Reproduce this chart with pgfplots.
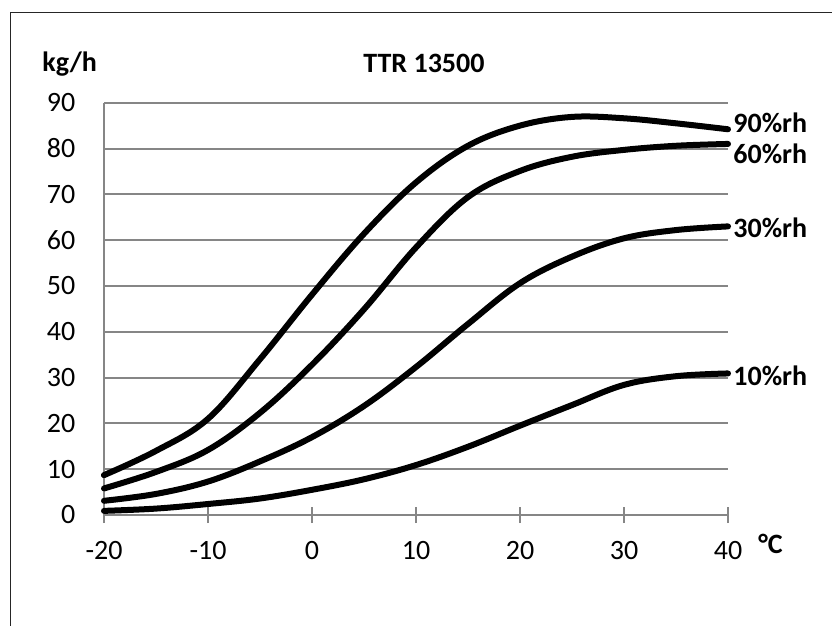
\documentclass[border=0pt]{standalone}
\usepackage{pgfplots}
\pgfplotsset{compat=1.18}
\usepackage{fontspec}
\setmainfont{Carlito}
\definecolor{gridgray}{RGB}{134,134,134}
\newcommand{\lblfont}{\fontsize{14bp}{16bp}\selectfont}
\begin{document}
\begin{tikzpicture}[x=0.5bp,y=-0.5bp,font=\lblfont]
\useasboundingbox (0,0) rectangle (832,626);
\fill[white] (0,0) rectangle (832,626);
\draw[line width=0.6bp, black!85] (10.5,626) -- (10.5,12.5) -- (832,12.5);
\coordinate (O) at (104,515);
\begin{axis}[
  at={(O)}, anchor=south west,
  scale only axis, width=312bp, height=206.15bp,
  xmin=-20, xmax=40, ymin=0, ymax=90,
  axis x line*=bottom, axis y line*=left,
  axis line style={gridgray, line width=1bp},
  xtick={-20,-10,0,10,20,30,40},
  xticklabels={-20,-10,0,10,20,30,40},
  ytick={0,10,20,30,40,50,60,70,80,90},
  yticklabels={0,10,20,30,40,50,60,70,80,90},
  ymajorgrids,
  grid style={gridgray, line width=1bp},
  tick align=center,
  major tick length=8bp,
  xtick style={gridgray, line width=1bp},
  ytick style={draw=none},
  ticklabel style={font=\lblfont},
  xticklabel style={anchor=north, yshift=-5.8bp},
  yticklabel style={anchor=east},
  yticklabel shift=6.8bp,
  clip=false,
]
% 90 %rh
\addplot[black, line width=3bp, line cap=round, smooth, tension=0.6] coordinates {
(-20,8.7) (-15,14.0) (-10,21.0) (-5,34.0) (0,48.1) (5,61.4) (10,72.6) (15,80.6) (20,85.0) (25,86.9) (30,86.6) (35,85.5) (40,84.2)};
% 60 %rh
\addplot[black, line width=3bp, line cap=round, smooth, tension=0.6] coordinates {
(-20,5.8) (-15,9.4) (-10,14.2) (-5,22.3) (0,32.8) (5,44.9) (10,58.4) (15,69.4) (20,75.1) (25,78.2) (30,79.7) (35,80.6) (40,81.0)};
% 30 %rh
\addplot[black, line width=3bp, line cap=round, smooth, tension=0.6] coordinates {
(-20,3.1) (-15,4.6) (-10,7.3) (-5,11.7) (0,17.0) (5,23.8) (10,32.3) (15,41.7) (20,50.6) (25,56.4) (30,60.4) (35,62.2) (40,63.0)};
% 10 %rh
\addplot[black, line width=3bp, line cap=round, smooth, tension=0.6] coordinates {
(-20,0.9) (-15,1.4) (-10,2.4) (-5,3.6) (0,5.5) (5,7.8) (10,10.9) (15,14.9) (20,19.5) (25,24.0) (30,28.4) (35,30.3) (40,30.9)};
\node[anchor=west, inner sep=0, font=\lblfont\bfseries, xshift=2.5bp] at (axis cs:40,85.6) {90\%rh};
\node[anchor=west, inner sep=0, font=\lblfont\bfseries, xshift=2.5bp] at (axis cs:40,78.9) {60\%rh};
\node[anchor=west, inner sep=0, font=\lblfont\bfseries, xshift=2.5bp] at (axis cs:40,62.6) {30\%rh};
\node[anchor=west, inner sep=0, font=\lblfont\bfseries, xshift=2.5bp] at (axis cs:40,30.3) {10\%rh};
\end{axis}
\node[anchor=center, inner sep=0, font=\lblfont\bfseries] at (424,63) {TTR 13500};
\node[anchor=base west, inner sep=0, font=\lblfont\bfseries] at (42,72) {kg/h};
\node[anchor=base west, inner sep=0, font=\lblfont\bfseries] at (758,553) {°C};
\end{tikzpicture}
\end{document}
